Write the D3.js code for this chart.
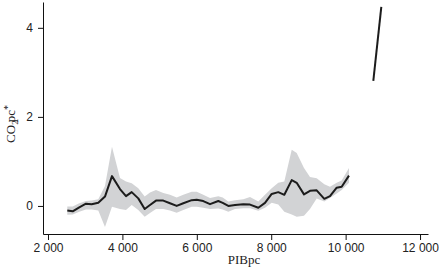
<!DOCTYPE html>
<html>
<head>
<meta charset="utf-8">
<script src="https://cdn.jsdelivr.net/npm/d3@7"></script>
<style>
  body { margin: 0; background: #fff; }
  svg { display: block; font-family: "Liberation Serif", serif; }
  .axis text { font-size: 12px; fill: #222; }
  .axis path, .axis line { stroke: #111; }
</style>
</head>
<body>
<div id="chart"></div>
<script>
// PIB per capita (x) and CO2 per capita estimate with its band
const gdp = [2519, 2664, 2841, 3021, 3175, 3352, 3532, 3720, 3935, 4097, 4250, 4427, 4599, 4742, 4903,
  5099, 5279, 5459, 5637, 5863, 5997, 6174, 6355, 6578, 6696, 6847, 7027, 7250, 7430, 7653, 7833,
  8013, 8190, 8352, 8551, 8685, 8881, 9042, 9222, 9427, 9580, 9760, 9894, 10090]
const co2 = [-0.10, -0.12, -0.03, 0.05, 0.04, 0.07, 0.21, 0.67, 0.38, 0.22, 0.31, 0.17, -0.07, 0.02, 0.12,
  0.12, 0.06, 0.00, 0.06, 0.13, 0.14, 0.11, 0.04, 0.11, 0.07, 0.00, 0.02, 0.04, 0.03, -0.04, 0.07,
  0.27, 0.31, 0.25, 0.58, 0.52, 0.26, 0.34, 0.35, 0.16, 0.22, 0.41, 0.43, 0.68]
const co2Low = [-0.20, -0.19, -0.13, -0.08, -0.08, -0.10, -0.47, -0.02, -0.07, -0.09, 0.02, -0.09, -0.24, -0.16, -0.07,
  -0.07, -0.10, -0.15, -0.09, -0.02, -0.02, -0.04, -0.07, -0.06, -0.08, -0.13, -0.07, -0.05, -0.05, -0.11, -0.04,
  0.07, 0.03, -0.13, -0.19, -0.24, -0.22, -0.07, 0.17, 0.10, 0.18, 0.28, 0.36, 0.52]
const co2High = [-0.01, -0.01, 0.06, 0.11, 0.12, 0.15, 0.45, 1.33, 0.63, 0.55, 0.51, 0.40, 0.21, 0.30, 0.36,
  0.29, 0.25, 0.19, 0.25, 0.32, 0.32, 0.25, 0.18, 0.22, 0.19, 0.10, 0.13, 0.15, 0.20, 0.10, 0.25,
  0.40, 0.52, 0.55, 1.26, 1.19, 0.85, 0.65, 0.62, 0.49, 0.43, 0.52, 0.57, 0.85]

// separate steep segment at the top right
const gdpHigh = [10744, 10959]
const co2HighSeg = [2.81, 4.47]

const xTicks = [2000, 4000, 6000, 8000, 10000, 12000]
const yTicks = [0, 2, 4]

const width = 439
const height = 269

const svg = d3.select('#chart').append('svg')
  .attr('width', width)
  .attr('height', height)

const x = d3.scaleLinear().domain([1866, 12214]).range([43, 428])
const y = d3.scaleLinear().domain([-0.63, 4.58]).range([234, 2])

const fr = d3.formatLocale({ decimal: ',', thousands: '\u2009', grouping: [3], currency: ['', ''] })
const fmt = fr.format(',')

const rows = gdp.map((g, i) => ({ x: g, y: co2[i], lo: co2Low[i], hi: co2High[i] }))

// confidence band
svg.append('path')
  .datum(rows)
  .attr('fill', '#d2d3d5')
  .attr('d', d3.area()
    .x(d => x(d.x))
    .y0(d => y(d.lo))
    .y1(d => y(d.hi)))

// main line
svg.append('path')
  .datum(rows)
  .attr('fill', 'none')
  .attr('stroke', '#1c1c1c')
  .attr('stroke-width', 2)
  .attr('stroke-linejoin', 'round')
  .attr('d', d3.line().x(d => x(d.x)).y(d => y(d.y)))

svg.append('path')
  .datum(gdpHigh.map((g, i) => ({ x: g, y: co2HighSeg[i] })))
  .attr('fill', 'none')
  .attr('stroke', '#1c1c1c')
  .attr('stroke-width', 2)
  .attr('d', d3.line().x(d => x(d.x)).y(d => y(d.y)))

// axes
svg.append('g')
  .attr('class', 'axis')
  .attr('transform', 'translate(0,234)')
  .call(d3.axisBottom(x).tickValues(xTicks).tickFormat(d => fmt(d).replace('\u2009', ' ')).tickSizeInner(6).tickSizeOuter(0).tickPadding(3))

svg.append('g')
  .attr('class', 'axis')
  .attr('transform', 'translate(43,0)')
  .call(d3.axisLeft(y).tickValues(yTicks).tickFormat(d3.format('d')).tickSizeInner(5).tickSizeOuter(0).tickPadding(5))

// axis titles
svg.append('text')
  .attr('x', 244)
  .attr('y', 264)
  .attr('text-anchor', 'middle')
  .attr('font-size', 13)
  .attr('fill', '#222')
  .text('PIBpc')

const yl = svg.append('text')
  .attr('transform', 'translate(15,124) rotate(-90)')
  .attr('text-anchor', 'middle')
  .attr('font-size', 13)
  .attr('fill', '#222')
yl.append('tspan').text('CO')
yl.append('tspan').attr('font-size', 9).attr('dy', 3).text('2')
yl.append('tspan').attr('dx', -2).attr('dy', -3).text('pc')
yl.append('tspan').attr('font-size', 10).attr('dy', -4).text('*')
</script>
</body>
</html>
